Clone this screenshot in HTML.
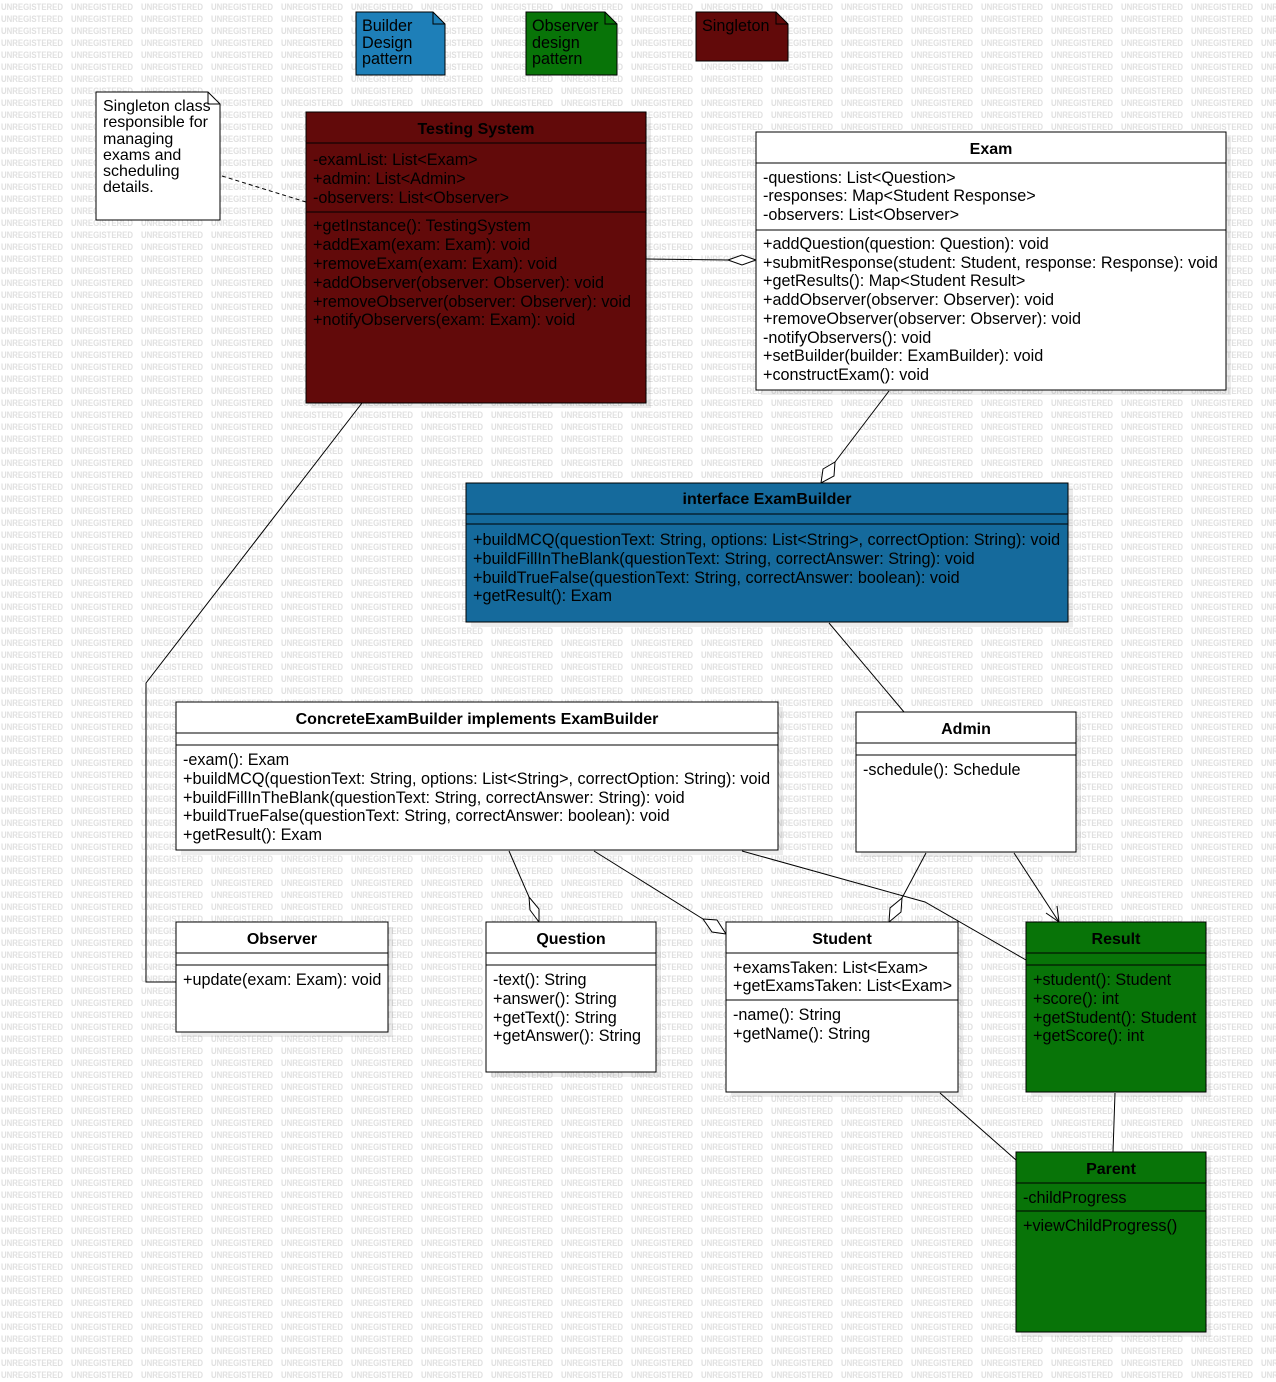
<!DOCTYPE html>
<html><head><meta charset="utf-8"><style>
html,body{margin:0;padding:0;background:#fff;}
svg{display:block;}
text{font-family:"Liberation Sans",sans-serif;}
.t{font-size:16.2px;fill:#000;}
.h{font-size:16px;font-weight:bold;fill:#000;text-anchor:middle;}
.b{stroke:#000;stroke-width:1;}
.wm{font-size:9px;font-weight:bold;fill:#e0e0e0;}
</style></head><body>
<svg width="1276" height="1382" viewBox="0 0 1276 1382" xmlns="http://www.w3.org/2000/svg">
<defs>
<pattern id="wm" x="0" y="0" width="70" height="12" patternUnits="userSpaceOnUse">
<text class="wm" x="1" y="10" textLength="62" lengthAdjust="spacingAndGlyphs">UNREGISTERED</text>
</pattern>
</defs>
<rect width="1276" height="1382" fill="url(#wm)"/>

<g fill="#000" opacity="0.07">
<rect x="311" y="117" width="340" height="291"/>
<rect x="761" y="137" width="470" height="258"/>
<rect x="471" y="488" width="602" height="139"/>
<rect x="181" y="707" width="602" height="148"/>
<rect x="861" y="717" width="220" height="140"/>
<rect x="181" y="927" width="212" height="110"/>
<rect x="491" y="927" width="170" height="150"/>
<rect x="731" y="927" width="232" height="170"/>
<rect x="1031" y="927" width="180" height="170"/>
<rect x="1021" y="1157" width="190" height="180"/>
</g>

<g stroke="#000" stroke-width="1" fill="none">
<line x1="646" y1="259" x2="728" y2="260"/>
<polygon points="728,260 742,255 756,260 742,265" fill="#fff"/>
<line x1="889" y1="391" x2="835" y2="462"/>
<polygon points="835,462 834,476 821,483 823,469" fill="#fff"/>
<polyline points="362,403 146,683 146,982 176,982"/>
<line x1="829" y1="623" x2="904" y2="712"/>
<line x1="509" y1="851" x2="529" y2="897"/>
<polygon points="529,897 539,909 539,922 530,910" fill="#fff"/>
<line x1="594" y1="851" x2="703" y2="919"/>
<polygon points="703,919 717,920 726,934 712,932" fill="#fff"/>
<polyline points="742,851 925,902 1026,960"/>
<line x1="926" y1="853" x2="902" y2="898"/>
<polygon points="902,898 901,912 889,922 890,908" fill="#fff"/>
<line x1="1014" y1="853" x2="1059" y2="922"/>
<polyline points="1046,913 1059,922 1057,906"/>
<line x1="940" y1="1093" x2="1016" y2="1160"/>
<line x1="1115" y1="1093" x2="1113" y2="1152"/>
<line x1="222" y1="176" x2="306" y2="202" stroke-dasharray="4,3"/>
</g>

<polygon points="356,12 433,12 445,24 445,75 356,75" fill="#1e7fb8" stroke="#000"/>
<polyline points="433,12 433,24 445,24" fill="none" stroke="#000"/>
<text class="t"><tspan x="362" y="31">Builder</tspan><tspan x="362" y="48">Design</tspan><tspan x="362" y="64">pattern</tspan></text>
<polygon points="526,12 605,12 617,24 617,75 526,75" fill="#087408" stroke="#000"/>
<polyline points="605,12 605,24 617,24" fill="none" stroke="#000"/>
<text class="t"><tspan x="532" y="31">Observer</tspan><tspan x="532" y="48">design</tspan><tspan x="532" y="64">pattern</tspan></text>
<polygon points="696,12 776,12 788,24 788,61 696,61" fill="#620a0a" stroke="#000"/>
<polyline points="776,12 776,24 788,24" fill="none" stroke="#000"/>
<text class="t" x="702" y="31">Singleton</text>

<polygon points="96,92 208,92 220,104 220,220 96,220" fill="#fff" stroke="#000"/>
<polyline points="208,92 208,104 220,104" fill="none" stroke="#000"/>
<text style="font-size:16px"><tspan x="103" y="111">Singleton class</tspan><tspan x="103" y="127">responsible for</tspan><tspan x="103" y="144">managing</tspan><tspan x="103" y="160">exams and</tspan><tspan x="103" y="176">scheduling</tspan><tspan x="103" y="192">details.</tspan></text>

<rect x="306" y="112" width="340" height="291" fill="#620a0a" class="b"/>
<line x1="306" y1="143" x2="646" y2="143" class="b"/>
<line x1="306" y1="212" x2="646" y2="212" class="b"/>
<text class="h" x="476" y="134">Testing System</text>
<text class="t"><tspan x="313" y="165">-examList: List&lt;Exam&gt;</tspan><tspan x="313" y="184">+admin: List&lt;Admin&gt;</tspan><tspan x="313" y="203">-observers: List&lt;Observer&gt;</tspan></text>
<text class="t"><tspan x="313" y="231">+getInstance(): TestingSystem</tspan><tspan x="313" y="250">+addExam(exam: Exam): void</tspan><tspan x="313" y="269">+removeExam(exam: Exam): void</tspan><tspan x="313" y="288">+addObserver(observer: Observer): void</tspan><tspan x="313" y="307">+removeObserver(observer: Observer): void</tspan><tspan x="313" y="325">+notifyObservers(exam: Exam): void</tspan></text>

<rect x="756" y="132" width="470" height="258" fill="#fff" class="b"/>
<line x1="756" y1="163" x2="1226" y2="163" class="b"/>
<line x1="756" y1="230" x2="1226" y2="230" class="b"/>
<text class="h" x="991" y="154">Exam</text>
<text class="t"><tspan x="763" y="183">-questions: List&lt;Question&gt;</tspan><tspan x="763" y="201">-responses: Map&lt;Student Response&gt;</tspan><tspan x="763" y="220">-observers: List&lt;Observer&gt;</tspan></text>
<text class="t"><tspan x="763" y="249">+addQuestion(question: Question): void</tspan><tspan x="763" y="268">+submitResponse(student: Student, response: Response): void</tspan><tspan x="763" y="286">+getResults(): Map&lt;Student  Result&gt;</tspan><tspan x="763" y="305">+addObserver(observer: Observer): void</tspan><tspan x="763" y="324">+removeObserver(observer: Observer): void</tspan><tspan x="763" y="343">-notifyObservers(): void</tspan><tspan x="763" y="361">+setBuilder(builder: ExamBuilder): void</tspan><tspan x="763" y="380">+constructExam(): void</tspan></text>

<rect x="466" y="483" width="602" height="139" fill="#156a9c" class="b"/>
<line x1="466" y1="514" x2="1068" y2="514" class="b"/>
<line x1="466" y1="524" x2="1068" y2="524" class="b"/>
<text class="h" x="767" y="504">interface ExamBuilder</text>
<text class="t"><tspan x="473" y="545">+buildMCQ(questionText: String, options: List&lt;String&gt;, correctOption: String): void</tspan><tspan x="473" y="564">+buildFillInTheBlank(questionText: String, correctAnswer: String): void</tspan><tspan x="473" y="583">+buildTrueFalse(questionText: String, correctAnswer: boolean): void</tspan><tspan x="473" y="601">+getResult(): Exam</tspan></text>

<rect x="176" y="702" width="602" height="148" fill="#fff" class="b"/>
<line x1="176" y1="733" x2="778" y2="733" class="b"/>
<line x1="176" y1="745" x2="778" y2="745" class="b"/>
<text class="h" x="477" y="724">ConcreteExamBuilder implements ExamBuilder</text>
<text class="t"><tspan x="183" y="765">-exam(): Exam</tspan><tspan x="183" y="784">+buildMCQ(questionText: String, options: List&lt;String&gt;, correctOption: String): void</tspan><tspan x="183" y="803">+buildFillInTheBlank(questionText: String, correctAnswer: String): void</tspan><tspan x="183" y="821">+buildTrueFalse(questionText: String, correctAnswer: boolean): void</tspan><tspan x="183" y="840">+getResult(): Exam</tspan></text>

<rect x="856" y="712" width="220" height="140" fill="#fff" class="b"/>
<line x1="856" y1="743" x2="1076" y2="743" class="b"/>
<line x1="856" y1="755" x2="1076" y2="755" class="b"/>
<text class="h" x="966" y="734">Admin</text>
<text class="t" x="863" y="775">-schedule(): Schedule</text>

<rect x="176" y="922" width="212" height="110" fill="#fff" class="b"/>
<line x1="176" y1="953" x2="388" y2="953" class="b"/>
<line x1="176" y1="965" x2="388" y2="965" class="b"/>
<text class="h" x="282" y="944">Observer</text>
<text class="t" x="183" y="985">+update(exam: Exam): void</text>

<rect x="486" y="922" width="170" height="150" fill="#fff" class="b"/>
<line x1="486" y1="953" x2="656" y2="953" class="b"/>
<line x1="486" y1="965" x2="656" y2="965" class="b"/>
<text class="h" x="571" y="944">Question</text>
<text class="t"><tspan x="493" y="985">-text(): String</tspan><tspan x="493" y="1004">+answer(): String</tspan><tspan x="493" y="1023">+getText(): String</tspan><tspan x="493" y="1041">+getAnswer(): String</tspan></text>

<rect x="726" y="922" width="232" height="170" fill="#fff" class="b"/>
<line x1="726" y1="953" x2="958" y2="953" class="b"/>
<line x1="726" y1="1000" x2="958" y2="1000" class="b"/>
<text class="h" x="842" y="944">Student</text>
<text class="t"><tspan x="733" y="973">+examsTaken: List&lt;Exam&gt;</tspan><tspan x="733" y="991">+getExamsTaken: List&lt;Exam&gt;</tspan></text>
<text class="t"><tspan x="733" y="1020">-name(): String</tspan><tspan x="733" y="1039">+getName(): String</tspan></text>

<rect x="1026" y="922" width="180" height="170" fill="#087408" class="b"/>
<line x1="1026" y1="953" x2="1206" y2="953" class="b"/>
<line x1="1026" y1="965" x2="1206" y2="965" class="b"/>
<text class="h" x="1116" y="944">Result</text>
<text class="t"><tspan x="1033" y="985">+student(): Student</tspan><tspan x="1033" y="1004">+score(): int</tspan><tspan x="1033" y="1023">+getStudent(): Student</tspan><tspan x="1033" y="1041">+getScore(): int</tspan></text>

<rect x="1016" y="1152" width="190" height="180" fill="#087408" class="b"/>
<line x1="1016" y1="1183" x2="1206" y2="1183" class="b"/>
<line x1="1016" y1="1211" x2="1206" y2="1211" class="b"/>
<text class="h" x="1111" y="1174">Parent</text>
<text class="t" x="1023" y="1203">-childProgress</text>
<text class="t" x="1023" y="1231">+viewChildProgress()</text>
</svg>
</body></html>
